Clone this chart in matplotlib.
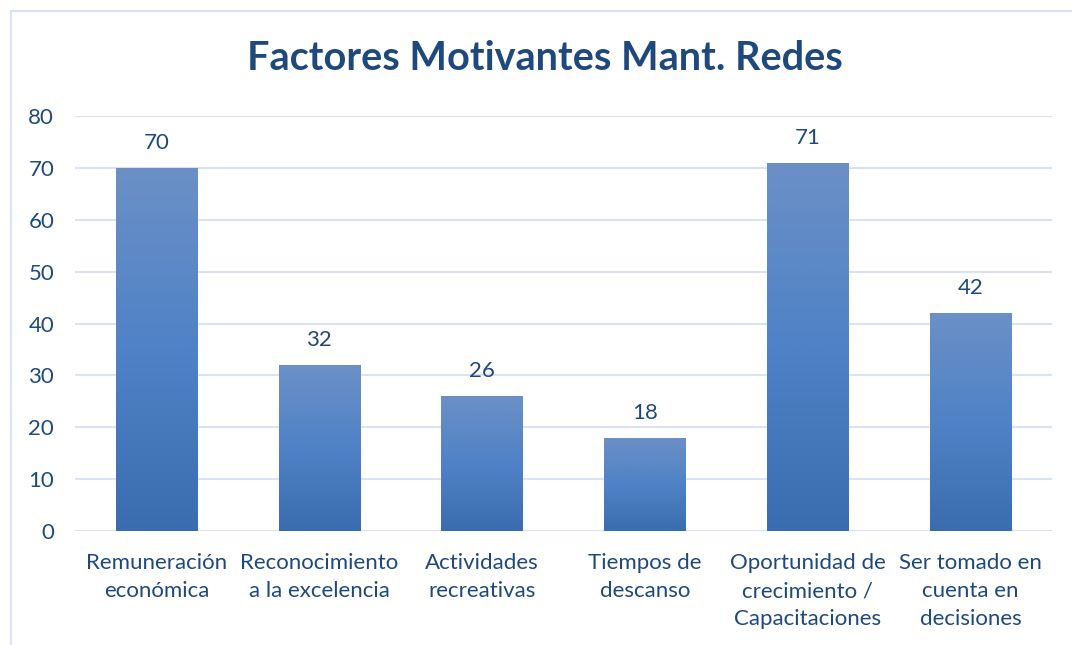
import matplotlib
matplotlib.use("Agg")
import matplotlib.pyplot as plt
from matplotlib.colors import LinearSegmentedColormap
from matplotlib.patches import Rectangle
import numpy as np

categories = ["Remuneración\neconómica", "Reconocimiento\na la excelencia",
              "Actividades\nrecreativas", "Tiempos de\ndescanso",
              "Oportunidad de\ncrecimiento /\nCapacitaciones",
              "Ser tomado en\ncuenta en\ndecisiones"]
values = [70, 32, 26, 18, 71, 42]
yticks = [0, 10, 20, 30, 40, 50, 60, 70, 80]
title = "Factores Motivantes Mant. Redes"

text_col = "#1f497d"
grid_col = "#d9e3f3"
plt.rcParams['font.family'] = ['Lato', 'DejaVu Sans']

W, H = 1072, 645
fig = plt.figure(figsize=(W / 100, H / 100), dpi=100)

# chart frame (top and left edges visible)
frame = Rectangle((11 / W, -0.1), 1.2, (H - 11) / H + 0.1, transform=fig.transFigure,
                  fill=False, edgecolor=grid_col, lw=1.5)
fig.patches.append(frame)

ax = fig.add_axes([75 / W, 114 / H, 977 / W, 415 / H])
ax.set_xlim(-0.5, len(values) - 0.5)
ax.set_ylim(0, 80)
for s in ax.spines.values():
    s.set_visible(False)
ax.set_yticks(yticks)
ax.yaxis.grid(True, color=grid_col, lw=1.5)
ax.set_axisbelow(True)
ax.tick_params(axis='both', length=0, labelsize=16, labelcolor=text_col)
ax.tick_params(axis='y', pad=15)
ax.tick_params(axis='x', pad=16)
ax.set_xticks(range(len(values)))
ax.set_xticklabels(categories, linespacing=1.5)

cmap = LinearSegmentedColormap.from_list("bar", ["#3b6cb0", "#4f82c6", "#6b90c6"])
grad = np.linspace(0, 1, 256).reshape(-1, 1)
bars = ax.bar(range(len(values)), values, width=0.5, color='none', zorder=2)
for b, v in zip(bars, values):
    x0 = b.get_x()
    im = ax.imshow(grad, cmap=cmap, origin='lower', aspect='auto',
                   extent=(x0, x0 + b.get_width(), 0, v), zorder=2)
    im.set_clip_path(b)
    ax.annotate(str(v), (b.get_x() + b.get_width() / 2, v), xytext=(0, 18),
                textcoords='offset points', ha='center', va='center',
                fontsize=16, color=text_col)
ax.set_xlim(-0.5, len(values) - 0.5)
ax.set_ylim(0, 80)

fig.text(545 / W, 1 - 59 / H, title, ha='center', va='center', fontsize=28.5,
         fontweight='bold', color=text_col)

fig.savefig("out.png", dpi=100)
